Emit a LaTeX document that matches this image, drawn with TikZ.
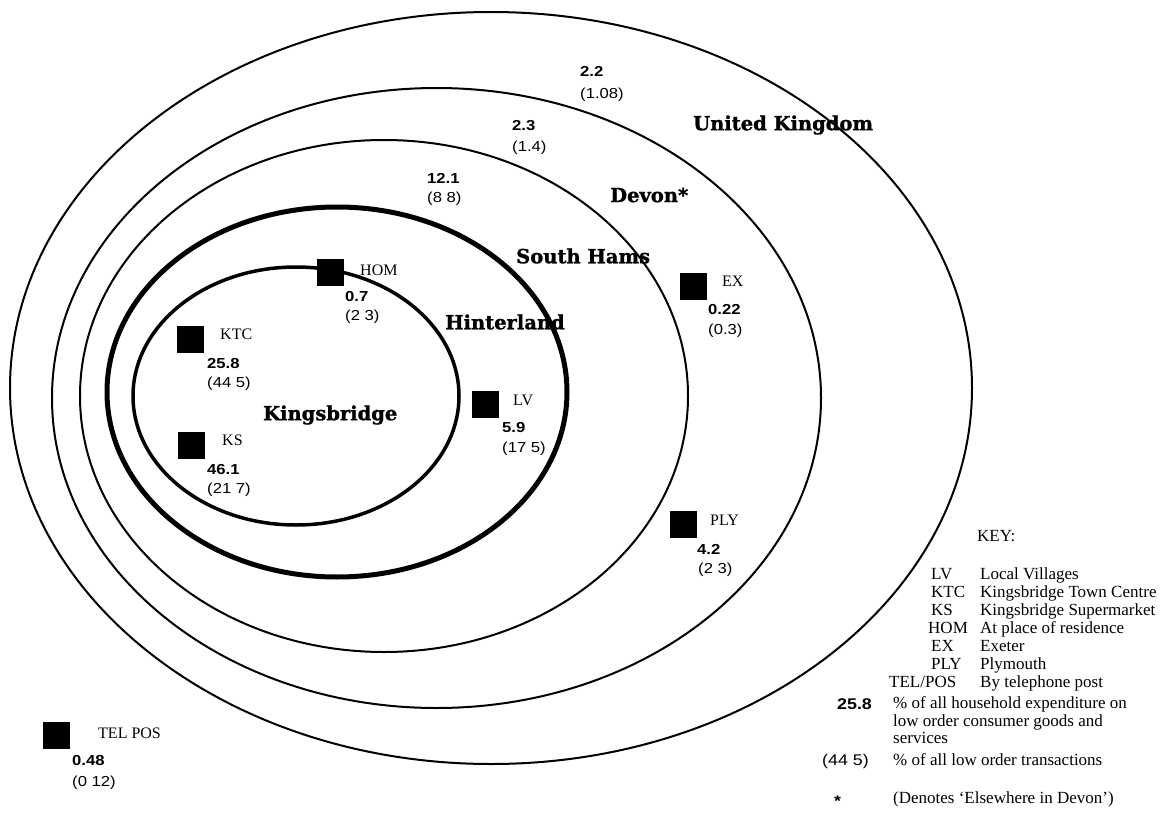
\documentclass[tikz,border=0pt]{standalone}
\usepackage{fontspec}
\setmainfont{Liberation Serif}
\newfontfamily\zonefont[BoldFeatures={FakeBold=1.2}]{DejaVu Serif}
\newfontfamily\figfont[FakeStretch=1.15]{Liberation Sans}
\begin{document}
\begin{tikzpicture}[x=1pt,y=-1pt,
  ring/.style={draw=black, line width=2pt},
  thickring/.style={draw=black, line width=5pt},
  midring/.style={draw=black, line width=3.5pt},
  sq/.style={fill=black, draw=none, minimum size=27pt, inner sep=0pt},
  tag/.style={anchor=west, inner sep=0pt, font=\fontsize{16}{16}\selectfont},
  val/.style={anchor=west, inner sep=0pt, font=\figfont\bfseries\fontsize{14.5}{14.5}\selectfont},
  pct/.style={anchor=west, inner sep=0pt, font=\figfont\fontsize{14.5}{14.5}\selectfont},
  zone/.style={anchor=west, inner sep=0pt, font=\zonefont\bfseries\fontsize{19.5}{19.5}\selectfont},
  keytxt/.style={anchor=base west, inner sep=0pt, font=\fontsize{17}{18}\selectfont},
  keyval/.style={anchor=base west, inner sep=0pt, font=\figfont\bfseries\fontsize{15.5}{15.5}\selectfont},
  keypct/.style={anchor=base west, inner sep=0pt, font=\figfont\fontsize{15.5}{15.5}\selectfont}]
\useasboundingbox[fill=white] (0,0) rectangle (1171,816);

% nested zones
\draw[ring] (491,388) ellipse [x radius=481pt, y radius=376pt];
\draw[ring] (436.5,398) ellipse [x radius=384.5pt, y radius=310pt];
\draw[ring] (384,396) ellipse [x radius=304pt, y radius=256pt];
\draw[thickring] (337,392) ellipse [x radius=230pt, y radius=185pt];
\draw[midring] (296,396) ellipse [x radius=163pt, y radius=129pt];

% zone names
\node[zone] (zUK) at (693,125) {United Kingdom};
\node[zone] (zDV) at (610,195) {Devon*};
\node[zone] (zSH) at (516,256) {South Hams};
\node[zone] (zHI) at (445,322) {Hinterland};
\node[zone] (zKB) at (263,415) {Kingsbridge};

% shares for each zone
\node[val] (vUK) at (580,71) {2.2};
\node[pct] (pUK) at (580,95) {(1.08)};
\node[val] (vDV) at (512,126) {2.3};
\node[pct] (pDV) at (512,148) {(1.4)};
\node[val] (vSH) at (427,178) {12.1};
\node[pct] (pSH) at (427,199) {(8 8)};

% outlets
\node[sq] (sHOM) at (330,272) {};
\node[tag] (tHOM) at (360,270) {HOM};
\node[val] (vHOM) at (345,297) {0.7};
\node[pct] (pHOM) at (345,317) {(2 3)};

\node[sq] (sKTC) at (190,339) {};
\node[tag] (tKTC) at (220,334) {KTC};
\node[val] (vKTC) at (207,364) {25.8};
\node[pct] (pKTC) at (207,384) {(44 5)};

\node[sq] (sKS) at (191,445) {};
\node[tag] (tKS) at (222,440) {KS};
\node[val] (vKS) at (207,470) {46.1};
\node[pct] (pKS) at (207,490) {(21 7)};

\node[sq] (sLV) at (485,404) {};
\node[tag] (tLV) at (513,400) {LV};
\node[val] (vLV) at (502,428) {5.9};
\node[pct] (pLV) at (502,449) {(17 5)};

\node[sq] (sEX) at (693,286) {};
\node[tag] (tEX) at (722,281) {EX};
\node[val] (vEX) at (708,310) {0.22};
\node[pct] (pEX) at (708,331) {(0.3)};

\node[sq] (sPLY) at (683,524) {};
\node[tag] (tPLY) at (710,520) {PLY};
\node[val] (vPLY) at (697,549) {4.2};
\node[pct] (pPLY) at (698,570) {(2 3)};

\node[sq] (sTP) at (56,735) {};
\node[tag] (tTP) at (98,733) {TEL POS};
\node[val] (vTP) at (72,761) {0.48};
\node[pct] (pTP) at (72,783) {(0 12)};

% key
\node[keytxt] (kHead) at (977,541) {KEY:};
\node[keytxt] (kaLV) at (931,579) {LV};
\node[keytxt] (kdLV) at (980,579) {Local Villages};
\node[keytxt] (kaKTC) at (931,597) {KTC};
\node[keytxt] (kdKTC) at (980,597) {Kingsbridge Town Centre};
\node[keytxt] (kaKS) at (931,615) {KS};
\node[keytxt] (kdKS) at (980,615) {Kingsbridge Supermarket};
\node[keytxt] (kaHOM) at (928,633) {HOM};
\node[keytxt] (kdHOM) at (980,633) {At place of residence};
\node[keytxt] (kaEX) at (931,651) {EX};
\node[keytxt] (kdEX) at (980,651) {Exeter};
\node[keytxt] (kaPLY) at (931,669) {PLY};
\node[keytxt] (kdPLY) at (980,669) {Plymouth};
\node[keytxt] (kaTP) at (889,687) {TEL/POS};
\node[keytxt] (kdTP) at (980,687) {By telephone post};

\node[keyval] (kv) at (837,709) {25.8};
\node[keytxt] (kvd1) at (893,708) {\% of all household expenditure on};
\node[keytxt] (kvd2) at (893,726) {low order consumer goods and};
\node[keytxt] (kvd3) at (893,743) {services};
\node[keypct] (kp) at (822,765) {(44 5)};
\node[keytxt] (kpd) at (893,765) {\% of all low order transactions};
\node[keyval] (kst) at (834,806) {*};
\node[keytxt] (kstd) at (893,803) {(Denotes ‘Elsewhere in Devon’)};
\end{tikzpicture}
\end{document}
